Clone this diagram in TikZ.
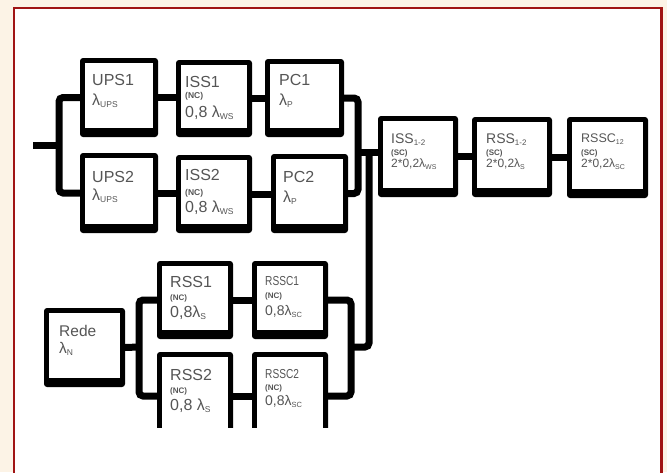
\documentclass[tikz,border=0pt]{standalone}
\usepackage{fontspec}
\usepackage{graphicx}
\setmainfont{Liberation Sans}
\usetikzlibrary{calc}
\definecolor{bgbeige}{RGB}{252,243,230}
\definecolor{framered}{RGB}{160,20,20}
\definecolor{txtgray}{RGB}{85,85,85}
\newcommand\sbs[2][8.5]{\raisebox{-2.5pt}{\fontsize{#1}{#1}\selectfont #2}}
\tikzset{
  bxo/.style={fill=black, draw=none, rounded corners=3pt, inner sep=0pt, outer sep=0pt},
  wire/.style={line width=7pt, black, rounded corners=4pt},
  txt/.style={anchor=base west, inner sep=0pt, text=txtgray}
}
\newcommand\bx[5]{%
  \node[bxo, minimum width={(#4)-(#2)}, minimum height={(#5)-(#3)}] (#1) at ({((#2)+(#4))/2},{((#3)+(#5))/2}) {};
  \fill[white] ($(#1.north west)+(5,5)$) rectangle ($(#1.south east)+(-5,-9)$);
}
\newcommand\tl[5]{\node[txt, font=\fontsize{#4}{#4}\selectfont] (#1) at (#2,#3) {#5};}
\begin{document}
\begin{tikzpicture}[x=1pt, y=-1pt]
\useasboundingbox (0,0) rectangle (667,472);
\fill[bgbeige] (0,0) rectangle (667,472);
\fill[white] (14,8) rectangle (661.5,472);
\draw[framered, line width=2.5pt] (14,474) -- (14,8) -- (661.5,8) -- (661.5,474);

% boxes
\bx{ups1}{80}{58}{158}{137}
\bx{iss1}{176}{60}{252}{137}
\bx{pc1}{265}{59}{344}{137}
\bx{ups2}{80}{153}{158}{233}
\bx{iss2}{176}{155}{252}{233}
\bx{pc2}{271}{154}{348}{233}
\bx{iss12}{378}{116}{458}{197}
\bx{rss12}{472}{117}{552}{197}
\bx{rssc12}{567}{117}{648}{198}
\bx{rede}{44}{308}{125}{387}
\bx{rss1}{157}{261}{233}{339}
\bx{rssc1}{252}{261}{328}{339}
\bx{rss2}{157}{352}{233}{440}
\bx{rssc2}{252}{352}{328}{440}
\fill[white] (150,427.5) rectangle (336,450);

% coordinates
\coordinate (in) at (33,145);
\coordinate (busL) at (59,145);
\coordinate (pcb) at (358,152);
\coordinate (busTop) at (369,152);
\coordinate (rsscb) at (351,347);
\coordinate (redeb) at (139,347);

% wires
\draw[wire] (in) -- (busL);
\draw[wire] (ups1.west) -| (busL) |- (ups2.west);
\draw[wire] (ups1.east) -- (ups1.east -| iss1.west);
\draw[wire] (iss1.east) -- (iss1.east -| pc1.west);
\draw[wire] (ups2.east) -- (ups2.east -| iss2.west);
\draw[wire] (iss2.east) -- (iss2.east -| pc2.west);
\draw[wire] (pc1.east) -| (pcb) |- (pc2.east);
\draw[wire] (pcb) -- (pcb -| iss12.west);
\draw[wire] (busTop) |- (rsscb);
\draw[wire] (rssc1.east) -| (rsscb) |- (rssc2.east);
\draw[wire] (rede.east) -- (redeb);
\draw[wire] (rss1.west) -| (redeb) |- (rss2.west);
\draw[wire] (rss1.east) -- (rss1.east -| rssc1.west);
\draw[wire] (rss2.east) -- (rss2.east -| rssc2.west);
\draw[wire] (iss12.east) -- (iss12.east -| rss12.west);
\draw[wire] (rss12.east) -- (rss12.east -| rssc12.west);

% texts
\tl{t1a}{92}{85}{16}{UPS1}
\tl{t1b}{92}{105}{16}{λ\sbs{UPS}}
\tl{t2a}{92}{182}{16}{UPS2}
\tl{t2b}{92}{200}{16}{λ\sbs{UPS}}
\tl{t3a}{185}{87}{16}{ISS1}
\tl{t3b}{185}{98}{8.5}{\bfseries (NC)}
\tl{t3c}{185}{117}{16}{0,8 λ\sbs{WS}}
\tl{t4a}{185}{180}{16}{ISS2}
\tl{t4b}{185}{195}{8.5}{\bfseries (NC)}
\tl{t4c}{185}{212}{16}{0,8 λ\sbs{WS}}
\tl{t5a}{279}{85}{16}{PC1}
\tl{t5b}{279}{105}{16}{λ\sbs{P}}
\tl{t6a}{283}{182}{16}{PC2}
\tl{t6b}{283}{202}{16}{λ\sbs{P}}
\tl{t7a}{391}{143}{14}{ISS\sbs[8]{1-2}}
\tl{t7b}{391}{155}{8}{\bfseries (SC)}
\tl{t7c}{391}{167}{12}{2*0,2λ\sbs[7]{WS}}
\tl{t8a}{486}{143}{14}{RSS\sbs[8]{1-2}}
\tl{t8b}{486}{155}{8}{\bfseries (SC)}
\tl{t8c}{486}{167}{12}{2*0,2λ\sbs[7]{S}}
\tl{t9a}{581}{142}{12.5}{RSSC\sbs[7]{12}}
\tl{t9b}{581}{155}{8}{\bfseries (SC)}
\tl{t9c}{581}{167}{12}{2*0,2λ\sbs[7]{SC}}
\tl{t10a}{59}{336}{15.5}{Rede}
\tl{t10b}{59}{353}{15.5}{λ\sbs{N}}
\tl{t11a}{170}{287}{16}{RSS1}
\tl{t11b}{170}{300}{8}{\bfseries (NC)}
\tl{t11c}{170}{317}{16}{0,8λ\sbs{S}}
\tl{t12a}{170}{380}{16}{RSS2}
\tl{t12b}{170}{393}{8}{\bfseries (NC)}
\tl{t12c}{170}{410}{16}{0,8 λ\sbs{S}}
\tl{t13a}{265}{285}{13}{\scalebox{0.78}[1]{RSSC1}}
\tl{t13b}{265}{298}{8}{\bfseries (NC)}
\tl{t13c}{265}{315}{14}{0,8λ\sbs[7.5]{SC}}
\tl{t14a}{265}{378}{13}{\scalebox{0.78}[1]{RSSC2}}
\tl{t14b}{265}{390}{8}{\bfseries (NC)}
\tl{t14c}{265}{405}{14}{0,8λ\sbs[7.5]{SC}}
\end{tikzpicture}
\end{document}
